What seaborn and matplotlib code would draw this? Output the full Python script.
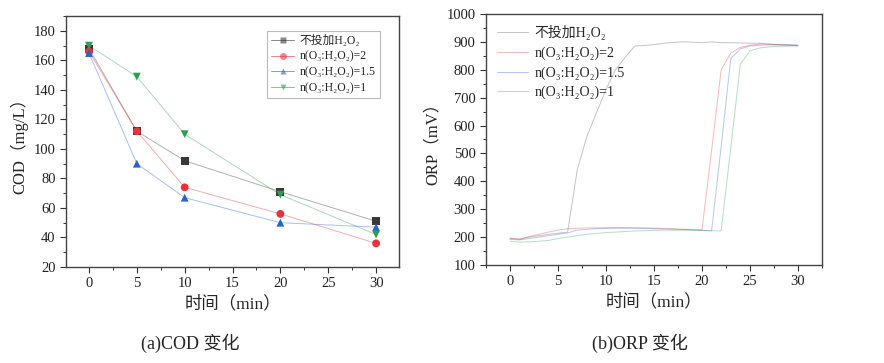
import matplotlib
matplotlib.use('Agg')
import matplotlib.pyplot as plt
from matplotlib.lines import Line2D
from matplotlib.ticker import MultipleLocator
import seaborn as sns
import pandas as pd

# ---- COD data ----
cod_time = [0, 5, 10, 20, 30]
cod_none = [168, 112, 92, 71, 51]
cod_r2 = [166, 112, 74, 56, 36]
cod_r15 = [165, 90, 67, 50, 47]
cod_r1 = [170, 149, 110, 69, 42]

# ---- ORP data (1 min step) ----
orp_time = list(range(31))
orp_none = [195, 193, 200, 205, 210, 214, 218, 440, 560, 645, 730, 800, 845, 885, 887, 890,
            895, 898, 900, 899, 897, 900, 897, 897, 896, 895, 895, 892, 890, 889, 888]
orp_r2 = [197, 192, 202, 210, 218, 225, 230, 232, 233, 233, 234, 234, 234, 233, 233, 232,
          231, 230, 228, 227, 225, 510, 800, 860, 880, 888, 892, 892, 890, 889, 888]
orp_r15 = [192, 190, 195, 200, 205, 210, 215, 225, 228, 230, 231, 232, 232, 232, 231, 230,
           229, 228, 227, 226, 225, 222, 525, 840, 875, 885, 888, 889, 889, 888, 887]
orp_r1 = [185, 182, 183, 185, 188, 195, 200, 205, 210, 213, 216, 218, 220, 222, 223, 224,
          225, 225, 225, 224, 224, 223, 222, 520, 820, 868, 878, 882, 884, 885, 885]

labels = ['不投加H₂O₂', 'n(O₃:H₂O₂)=2', 'n(O₃:H₂O₂)=1.5', 'n(O₃:H₂O₂)=1']
colors = ['#3a3a3a', '#e8323c', '#2a62c9', '#2f9e55']
markers = ['s', 'o', '^', 'v']

sns.set_style('ticks')
plt.rcParams['font.family'] = ['Liberation Serif', 'DejaVu Serif', 'Noto Sans CJK SC']
plt.rcParams['axes.unicode_minus'] = False

fig = plt.figure(figsize=(8.84, 3.63), dpi=100)
ax1 = fig.add_axes([0.0747, 0.2645, 0.3767, 0.691])
ax2 = fig.add_axes([0.5498, 0.270, 0.380, 0.6915])

# (a) COD
cod_df = pd.DataFrame({'t': cod_time, 'none': cod_none, 'r2': cod_r2,
                       'r15': cod_r15, 'r1': cod_r1})
handles = []
for col, lab, c, m in zip(['none', 'r2', 'r15', 'r1'], labels, colors, markers):
    sns.lineplot(data=cod_df, x='t', y=col, ax=ax1, color=c, alpha=0.4, lw=0.7)
    sns.scatterplot(data=cod_df, x='t', y=col, ax=ax1, color=c, marker=m, s=32,
                    edgecolor='none', zorder=3)
    handles.append(Line2D([0], [0], color=c, lw=0.7, alpha=0.6, marker=m,
                          markersize=5, markeredgecolor='none',
                          markerfacecolor=c, label=lab))
ax1.set_xlim(-2.4, 32.4)
ax1.set_ylim(20, 190)
ax1.xaxis.set_major_locator(MultipleLocator(5))
ax1.xaxis.set_minor_locator(MultipleLocator(2.5))
ax1.yaxis.set_major_locator(MultipleLocator(20))
ax1.yaxis.set_minor_locator(MultipleLocator(10))
ax1.set_xlabel('时间（min）', fontsize=12.5)
ax1.set_ylabel('COD（mg/L）', fontsize=12)
leg1 = ax1.legend(handles=handles, loc='upper right', bbox_to_anchor=(0.96, 0.965),
                  fontsize=8.5, frameon=True, fancybox=False, edgecolor='#aaaaaa',
                  handlelength=1.9, handletextpad=0.5, borderpad=0.35,
                  labelspacing=0.32)
leg1.get_frame().set_linewidth(0.8)

# (b) ORP
orp_df = pd.DataFrame({'t': orp_time, 'none': orp_none, 'r2': orp_r2,
                       'r15': orp_r15, 'r1': orp_r1})
orp_colors = ['#555555', '#e8323c', '#2a62c9', '#2f9e55']
for col, lab, c in zip(['none', 'r2', 'r15', 'r1'], labels, orp_colors):
    sns.lineplot(data=orp_df, x='t', y=col, ax=ax2, color=c, alpha=0.35, lw=0.7,
                 label=lab)
ax2.set_xlim(-2.5, 32.5)
ax2.set_ylim(100, 1000)
ax2.xaxis.set_major_locator(MultipleLocator(5))
ax2.xaxis.set_minor_locator(MultipleLocator(2.5))
ax2.yaxis.set_major_locator(MultipleLocator(100))
ax2.yaxis.set_minor_locator(MultipleLocator(50))
ax2.set_xlabel('时间（min）', fontsize=12.5)
ax2.set_ylabel('ORP（mV）', fontsize=12)
ax2.legend(loc='upper left', bbox_to_anchor=(0.0, 1.0), fontsize=10, frameon=False,
           handlelength=2.2, handletextpad=0.5, labelspacing=0.45, borderpad=0.3)

for ax in (ax1, ax2):
    for s in ax.spines.values():
        s.set_color('#444444')
        s.set_linewidth(1.0)
    ax.tick_params(which='major', direction='out', length=4, width=0.8,
                   labelsize=10.5, colors='#333333', labelcolor='#222222')
    ax.tick_params(which='minor', direction='out', length=2, width=0.7, colors='#333333')

fig.text(0.215, 0.055, '(a)COD 变化', ha='center', va='center', fontsize=13)
fig.text(0.724, 0.055, '(b)ORP 变化', ha='center', va='center', fontsize=13)

fig.savefig('out.png', dpi=100, facecolor='white')
